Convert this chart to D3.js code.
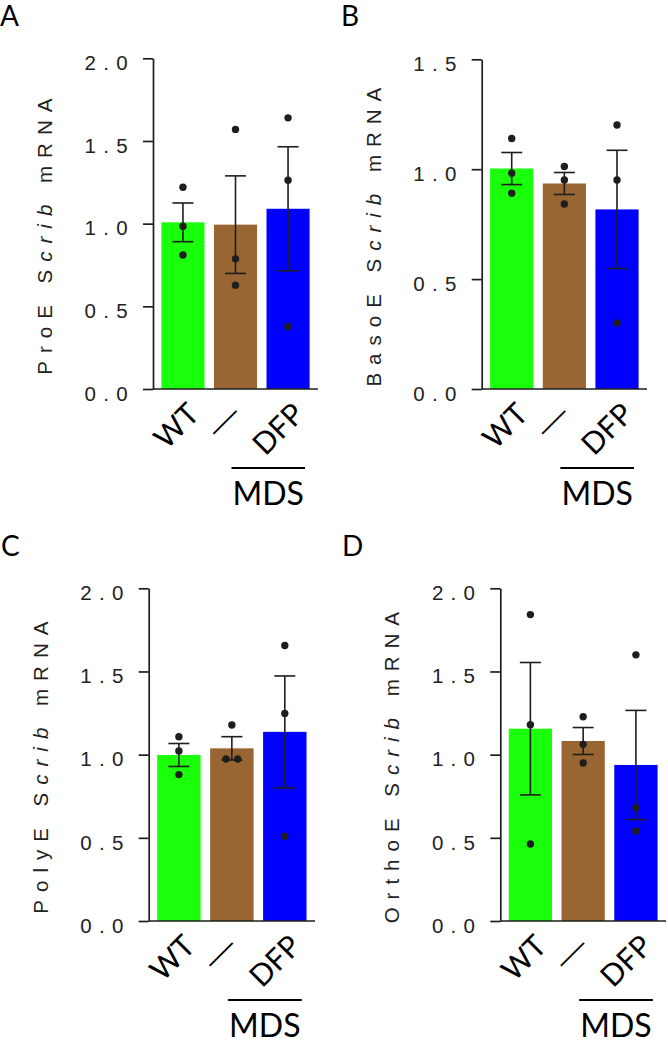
<!DOCTYPE html>
<html><head><meta charset="utf-8">
<script src="https://cdn.jsdelivr.net/npm/d3@7"></script>
<style>body{margin:0;background:#fff}svg{display:block}</style>
</head><body>
<svg id="c" width="668" height="1041"></svg>
<script>
// ---------- data ----------
const categories = ["WT", "\u2014", "DFP"];
const groupLabel = "MDS";
const panelLetters = ["A", "B", "C", "D"];
const cellTypes = ["ProE", "BasoE", "PolyE", "OrthoE"];
const yMaxes = [2.0, 1.5, 2.0, 2.0];
const tickValuesA = [0, 0.5, 1.0, 1.5, 2.0];
const tickValuesB = [0, 0.5, 1.0, 1.5];
const tickValuesC = [0, 0.5, 1.0, 1.5, 2.0];
const tickValuesD = [0, 0.5, 1.0, 1.5, 2.0];

const meansA = [1.008, 0.994, 1.090];
const semA   = [0.117, 0.295, 0.375];
const pointsA = [[1.22, 0.984, 0.81], [1.57, 0.787, 0.628], [1.64, 1.263, 0.378]];

const meansB = [1.003, 0.935, 0.817];
const semB   = [0.073, 0.050, 0.269];
const pointsB = [[1.14, 0.982, 0.891], [1.012, 0.951, 0.842], [1.201, 0.951, 0.30]];

const meansC = [0.998, 1.038, 1.137];
const semC   = [0.069, 0.070, 0.336];
const pointsC = [[1.108, 1.022, 0.88], [1.178, 0.974, 0.974], [1.656, 1.248, 0.509]];

const meansD = [1.156, 1.082, 0.938];
const semD   = [0.398, 0.081, 0.328];
const pointsD = [[1.842, 1.18, 0.463], [1.228, 1.062, 0.95], [1.60, 0.681, 0.541]];

const barColors = ["#1aff0a", "#996633", "#0000ff"];

// ---------- layout ----------
const layout = [
  {x0: 153.0, x1: 318, yBase: 389, yTop: 58.3,  lx: 0,   ly: 26},
  {x0: 481.7, x1: 647, yBase: 389, yTop: 59.3,  lx: 341, ly: 26},
  {x0: 148.7, x1: 315, yBase: 921, yTop: 588.3, lx: 1,   ly: 556},
  {x0: 500.3, x1: 666, yBase: 921, yTop: 588.3, lx: 342, ly: 556}
];
const panels = [
  {means: meansA, sem: semA, pts: pointsA, ticks: tickValuesA},
  {means: meansB, sem: semB, pts: pointsB, ticks: tickValuesB},
  {means: meansC, sem: semC, pts: pointsC, ticks: tickValuesC},
  {means: meansD, sem: semD, pts: pointsD, ticks: tickValuesD}
];

const ink = "#1e1e1e";
const svg = d3.select("#c");
const fmt = d3.format(".1f");
const r = 3.7;

panels.forEach((p, i) => {
  const L = layout[i];
  const g = svg.append("g");
  const x = d3.scaleBand().domain(categories).range([L.x0, L.x1])
    .paddingInner(0.18).paddingOuter(0.16);
  const y = d3.scaleLinear().domain([0, yMaxes[i]]).range([L.yBase, L.yTop]);
  const bw = x.bandwidth();

  // panel letter
  svg.append("text").attr("x", L.lx).attr("y", L.ly)
    .attr("font-family", "Lato").attr("font-size", 28).attr("fill", "#000")
    .text(panelLetters[i]);

  // bars
  g.selectAll("rect.bar").data(categories).enter().append("rect")
    .attr("x", d => x(d)).attr("width", bw)
    .attr("y", (d, k) => y(p.means[k]))
    .attr("height", (d, k) => y(0) - y(p.means[k]))
    .attr("fill", (d, k) => barColors[k]);

  // error bars
  categories.forEach((c, k) => {
    const cx = x(c) + bw / 2;
    const hi = y(p.means[k] + p.sem[k]), lo = y(p.means[k] - p.sem[k]);
    g.append("line").attr("x1", cx).attr("x2", cx).attr("y1", hi).attr("y2", lo)
      .attr("stroke", ink).attr("stroke-width", 1.6);
    [hi, lo].forEach(yy => g.append("line").attr("x1", cx - 10.5).attr("x2", cx + 10.5)
      .attr("y1", yy).attr("y2", yy).attr("stroke", ink).attr("stroke-width", 1.6));
    // points, spread horizontally when overlapping
    const ys = p.pts[k].map(v => y(v));
    const used = ys.map(() => false);
    ys.forEach((yy, a) => {
      if (used[a]) return;
      const cluster = [a];
      ys.forEach((y2, b) => { if (b > a && !used[b] && Math.abs(y2 - yy) < 2 * r) cluster.push(b); });
      cluster.forEach((idx, m) => {
        used[idx] = true;
        const off = (m - (cluster.length - 1) / 2) * 11.6;
        g.append("circle").attr("cx", cx + off).attr("cy", ys[idx]).attr("r", r).attr("fill", ink);
      });
    });
  });

  // y axis
  const ax = g.append("g").attr("transform", `translate(${L.x0},0)`)
    .call(d3.axisLeft(y).tickValues(p.ticks).tickFormat(fmt).tickSize(10).tickSizeOuter(0).tickPadding(0));
  ax.select(".domain").attr("stroke", ink).attr("stroke-width", 1.7);
  ax.selectAll(".tick line").attr("stroke", ink).attr("stroke-width", 1.7);
  ax.selectAll(".tick text")
    .attr("x", -25.5 + 7.5).attr("dy", "0.55em")
    .attr("font-family", "Liberation Sans, Arial, sans-serif").attr("font-size", 20.5)
    .attr("letter-spacing", 7.3).attr("fill", "#222");
  // baseline
  g.append("line").attr("x1", L.x0).attr("x2", L.x1).attr("y1", L.yBase).attr("y2", L.yBase)
    .attr("stroke", ink).attr("stroke-width", 1.7);

  // y label
  const lt = g.append("text")
    .attr("transform", `translate(${L.x0 - 101},${(L.yBase + L.yTop) / 2 + 9}) rotate(-90)`)
    .attr("text-anchor", "middle")
    .attr("font-family", "Liberation Sans, Arial, sans-serif").attr("font-size", 20.5)
    .attr("letter-spacing", 8).attr("fill", "#222");
  lt.append("tspan").text(cellTypes[i] + " S");
  lt.append("tspan").attr("font-style", "italic").text("crib");
  lt.append("tspan").text(" mRNA");

  // x labels
  categories.forEach((c, k) => {
    const cx = x(c) + bw / 2;
    if (k === 1) {
      g.append("text")
        .attr("transform", `translate(${cx - 5},${L.yBase + 39}) rotate(-45)`)
        .attr("text-anchor", "middle").attr("font-family", "Lato").attr("font-size", 27)
        .attr("textLength", 39).attr("lengthAdjust", "spacingAndGlyphs")
        .attr("fill", "#000").text(c);
    } else {
      g.append("text")
        .attr("transform", `translate(${cx + 18},${L.yBase + 27}) rotate(-45)`)
        .attr("text-anchor", "end").attr("font-family", "Lato").attr("font-size", 30)
        .attr("fill", "#000").text(c);
    }
  });

  // MDS group bracket
  const gx1 = x(categories[1]) + bw / 2 - 4, gx2 = x(categories[2]) + bw / 2 + 17;
  g.append("line").attr("x1", gx1).attr("x2", gx2)
    .attr("y1", L.yBase + 79).attr("y2", L.yBase + 79)
    .attr("stroke", "#000").attr("stroke-width", 2);
  g.append("text").attr("x", (gx1 + gx2) / 2).attr("y", L.yBase + 116)
    .attr("text-anchor", "middle").attr("font-family", "Lato").attr("font-size", 32)
    .attr("fill", "#000").text(groupLabel);
});
</script>
</body></html>
